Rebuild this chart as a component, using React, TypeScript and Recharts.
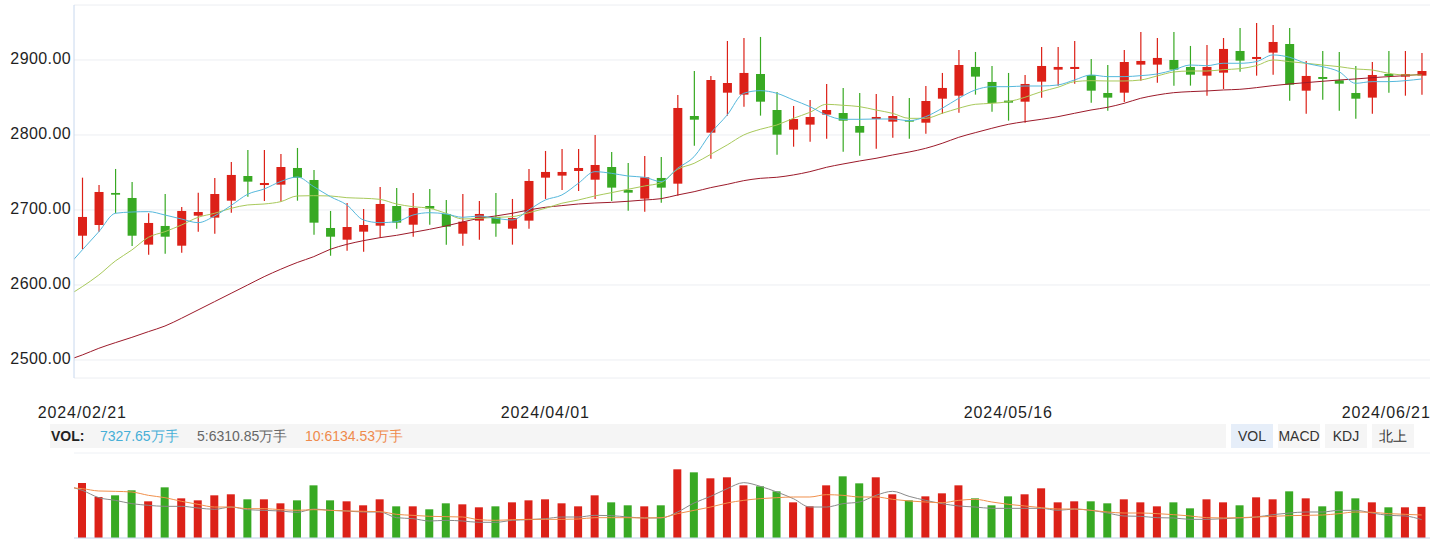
import React from "react";
import { ComposedChart, Bar, Line, XAxis, YAxis, CartesianGrid } from "recharts";

// trading days shown on the chart
const dates = [
  "2024/02/21", "2024/02/22", "2024/02/23", "2024/02/26", "2024/02/27", "2024/02/28", "2024/02/29",
  "2024/03/01", "2024/03/04", "2024/03/05", "2024/03/06", "2024/03/07", "2024/03/08",
  "2024/03/11", "2024/03/12", "2024/03/13", "2024/03/14", "2024/03/15",
  "2024/03/18", "2024/03/19", "2024/03/20", "2024/03/21", "2024/03/22",
  "2024/03/25", "2024/03/26", "2024/03/27", "2024/03/28", "2024/03/29",
  "2024/04/01", "2024/04/02", "2024/04/03", "2024/04/08", "2024/04/09", "2024/04/10", "2024/04/11", "2024/04/12",
  "2024/04/15", "2024/04/16", "2024/04/17", "2024/04/18", "2024/04/19",
  "2024/04/22", "2024/04/23", "2024/04/24", "2024/04/25", "2024/04/26", "2024/04/29", "2024/04/30",
  "2024/05/06", "2024/05/07", "2024/05/08", "2024/05/09", "2024/05/10",
  "2024/05/13", "2024/05/14", "2024/05/15", "2024/05/16", "2024/05/17",
  "2024/05/20", "2024/05/21", "2024/05/22", "2024/05/23", "2024/05/24",
  "2024/05/27", "2024/05/28", "2024/05/29", "2024/05/30", "2024/05/31",
  "2024/06/03", "2024/06/04", "2024/06/05", "2024/06/06", "2024/06/07",
  "2024/06/11", "2024/06/12", "2024/06/13", "2024/06/14",
  "2024/06/17", "2024/06/18", "2024/06/19", "2024/06/20", "2024/06/21",
];
const dateTicks = [0, 28, 56, 81];

const open = [
  2665.7, 2680.0, 2722.7, 2716.0, 2653.8, 2678.7, 2652.4, 2692.4, 2689.8, 2712.4,
  2745.3, 2733.3, 2733.8, 2756.0, 2740.0, 2676.0, 2660.4, 2671.1, 2679.1, 2705.3,
  2680.4, 2705.3, 2694.7, 2668.4, 2685.8, 2690.7, 2675.1, 2685.8, 2743.1, 2745.8,
  2752.0, 2740.4, 2757.3, 2726.7, 2715.1, 2742.7, 2735.1, 2825.3, 2803.1, 2856.4,
  2853.8, 2881.3, 2833.3, 2807.1, 2813.8, 2827.1, 2829.3, 2812.0, 2821.3, 2817.8,
  2820.0, 2816.4, 2848.4, 2852.4, 2890.7, 2870.7, 2845.8, 2844.4, 2871.1, 2887.1,
  2888.0, 2880.0, 2856.0, 2856.4, 2893.8, 2893.8, 2900.0, 2890.7, 2879.1, 2883.1,
  2912.0, 2901.3, 2909.8, 2921.3, 2859.1, 2877.3, 2872.9, 2856.0, 2849.8, 2881.3,
  2877.8, 2879.1,
];
const high = [
  2743.1, 2733.3, 2754.7, 2737.3, 2695.6, 2721.3, 2704.0, 2723.1, 2742.7, 2764.0,
  2780.0, 2780.0, 2774.7, 2782.7, 2753.3, 2698.7, 2709.3, 2701.3, 2730.7, 2729.3,
  2722.7, 2728.0, 2713.3, 2721.3, 2712.0, 2722.7, 2714.7, 2754.7, 2778.7, 2781.3,
  2781.3, 2800.0, 2777.3, 2762.7, 2772.0, 2770.7, 2853.3, 2885.3, 2878.7, 2925.3,
  2929.3, 2930.7, 2857.3, 2838.7, 2846.7, 2868.0, 2862.7, 2856.0, 2854.7, 2852.0,
  2849.3, 2865.3, 2882.7, 2913.3, 2910.7, 2892.0, 2882.7, 2880.0, 2917.3, 2917.3,
  2925.3, 2901.3, 2893.3, 2913.3, 2937.3, 2929.3, 2937.3, 2918.7, 2920.0, 2929.3,
  2942.7, 2949.3, 2946.7, 2942.7, 2898.7, 2912.0, 2910.7, 2892.0, 2897.3, 2912.0,
  2912.0, 2909.3,
];
const low = [
  2648.0, 2671.0, 2695.6, 2652.0, 2640.4, 2641.7, 2643.0, 2671.0, 2668.4, 2696.4,
  2717.8, 2712.0, 2711.0, 2712.4, 2667.0, 2639.0, 2645.7, 2644.4, 2663.1, 2675.1,
  2664.4, 2680.4, 2653.8, 2652.4, 2660.4, 2664.4, 2653.8, 2675.1, 2714.7, 2726.7,
  2725.3, 2714.7, 2712.0, 2699.1, 2697.8, 2709.8, 2719.1, 2785.8, 2768.4, 2825.8,
  2837.8, 2825.8, 2773.8, 2784.4, 2791.1, 2795.1, 2777.8, 2772.4, 2781.8, 2796.4,
  2795.1, 2801.8, 2828.4, 2829.8, 2853.8, 2831.1, 2819.1, 2816.4, 2849.8, 2865.8,
  2868.4, 2843.1, 2832.4, 2844.0, 2872.4, 2869.8, 2865.8, 2865.8, 2852.4, 2861.3,
  2884.4, 2879.1, 2880.4, 2845.8, 2828.4, 2847.1, 2832.4, 2821.8, 2828.4, 2856.4,
  2852.4, 2853.8,
];
const close = [
  2690.7, 2724.0, 2720.4, 2665.7, 2682.7, 2664.4, 2698.7, 2697.3, 2721.3, 2746.7,
  2737.8, 2736.0, 2757.3, 2743.1, 2683.1, 2664.4, 2677.3, 2680.0, 2708.0, 2683.1,
  2702.7, 2701.8, 2677.8, 2684.4, 2694.7, 2681.8, 2689.3, 2738.7, 2750.7, 2750.7,
  2756.0, 2760.0, 2729.8, 2723.1, 2743.6, 2729.8, 2836.0, 2820.4, 2873.3, 2869.3,
  2882.7, 2844.4, 2800.4, 2821.3, 2824.0, 2833.3, 2819.1, 2803.1, 2824.0, 2825.3,
  2817.8, 2845.3, 2862.7, 2893.3, 2877.8, 2842.7, 2843.1, 2868.0, 2892.0, 2890.7,
  2890.7, 2859.1, 2849.8, 2897.3, 2898.7, 2902.7, 2887.1, 2880.4, 2890.7, 2914.7,
  2899.1, 2904.0, 2924.0, 2867.1, 2878.7, 2874.7, 2868.4, 2848.4, 2880.0, 2878.7,
  2881.3, 2885.3,
];

// price moving averages as drawn
const ma5 = [
  2646.7, 2671.0, 2695.6, 2697.3, 2697.8, 2693.3, 2688.0, 2683.1, 2692.0, 2706.0,
  2721.0, 2728.0, 2738.0, 2744.0, 2731.1, 2717.8, 2706.7, 2686.7, 2683.1, 2684.4,
  2693.3, 2696.4, 2694.7, 2690.2, 2692.0, 2688.9, 2686.7, 2700.0, 2713.3, 2720.0,
  2735.6, 2751.1, 2748.9, 2745.3, 2743.6, 2737.8, 2755.6, 2771.1, 2802.2, 2826.7,
  2855.6, 2859.1, 2855.6, 2846.7, 2837.8, 2826.7, 2820.9, 2820.9, 2821.3, 2821.3,
  2819.1, 2824.4, 2835.6, 2848.9, 2860.0, 2864.4, 2864.4, 2865.3, 2865.3, 2866.7,
  2873.3, 2880.0, 2877.8, 2877.8, 2879.1, 2881.3, 2886.7, 2893.3, 2892.4, 2895.6,
  2895.6, 2897.8, 2906.7, 2903.6, 2895.6, 2891.1, 2884.4, 2868.9, 2871.1, 2871.1,
  2872.4, 2874.7,
];
const ma10 = [
  2597.8, 2613.3, 2632.0, 2646.7, 2663.6, 2671.1, 2680.0, 2690.2, 2695.6, 2702.2,
  2706.7, 2708.0, 2711.1, 2718.7, 2719.1, 2718.7, 2716.4, 2715.6, 2714.2, 2708.0,
  2704.4, 2702.2, 2695.6, 2688.0, 2688.9, 2690.2, 2691.1, 2696.4, 2702.2, 2709.0,
  2713.3, 2718.7, 2723.1, 2727.6, 2732.0, 2736.4, 2754.2, 2762.2, 2774.2, 2786.7,
  2800.0, 2807.6, 2813.3, 2822.2, 2830.2, 2840.9, 2839.6, 2837.8, 2833.3, 2828.9,
  2822.2, 2822.2, 2828.9, 2835.6, 2840.9, 2842.2, 2844.4, 2850.2, 2857.8, 2863.6,
  2871.1, 2872.4, 2872.0, 2872.0, 2873.3, 2878.7, 2884.0, 2885.3, 2885.3, 2887.1,
  2888.4, 2892.4, 2900.0, 2897.8, 2895.6, 2893.3, 2891.1, 2888.0, 2886.7, 2882.2,
  2880.0, 2880.0,
];
const maSlow = [
  2506.7, 2515.6, 2523.1, 2530.2, 2537.8, 2545.3, 2555.6, 2566.7, 2577.8, 2588.9,
  2600.0, 2611.1, 2621.0, 2630.0, 2637.8, 2647.6, 2654.2, 2659.1, 2663.1, 2666.2,
  2670.2, 2674.2, 2678.7, 2684.0, 2688.9, 2692.0, 2695.6, 2700.0, 2703.6, 2705.8,
  2708.0, 2709.3, 2710.2, 2711.6, 2713.3, 2715.1, 2720.0, 2724.4, 2729.8, 2734.2,
  2739.1, 2742.2, 2743.6, 2746.7, 2751.1, 2756.9, 2761.3, 2765.3, 2768.9, 2773.3,
  2777.3, 2782.2, 2788.9, 2796.9, 2803.1, 2808.9, 2814.2, 2817.8, 2820.9, 2824.4,
  2828.9, 2833.3, 2836.9, 2842.2, 2848.9, 2853.3, 2856.4, 2857.8, 2858.7, 2860.0,
  2860.9, 2863.1, 2865.8, 2868.0, 2869.8, 2871.6, 2873.3, 2874.7, 2876.4, 2877.8,
  2879.1, 2880.9,
];

// volume (万手) and its averages as drawn
const volume = [
  12940, 9650, 10040, 11220, 8630, 11920, 9330, 8860, 10040, 10280,
  9100, 9100, 8160, 8860, 12390, 8860, 8630, 7690, 9100, 7450,
  7450, 6750, 8160, 7920, 7220, 7450, 8390, 8860, 9100, 8160,
  7450, 10040, 8390, 7690, 7450, 7690, 16160, 15450, 14040, 14280,
  12390, 12160, 10980, 8390, 7450, 12390, 14510, 12860, 14280, 10280,
  8860, 9800, 10510, 12390, 9330, 7690, 9800, 10280, 11690, 8390,
  8630, 8630, 8160, 9100, 8390, 7450, 8390, 6980, 9100, 8390,
  7690, 9570, 9100, 10980, 9330, 7450, 10980, 9330, 8390, 7220,
  7220, 7327.65,
];
const volMa5 = [
  11220, 9490, 8860, 8080, 7690, 7450, 7450, 7060, 6750, 7290,
  6670, 6510, 6350, 6040, 6820, 6510, 6350, 6120, 6120, 4780,
  4550, 4000, 4160, 4000, 3690, 3690, 4160, 4310, 4550, 4940,
  4940, 5330, 5260, 4940, 4710, 4710, 6120, 8240, 9800, 11610,
  13020, 12160, 10820, 9260, 7290, 7290, 8080, 8470, 10040, 10980,
  9800, 8860, 8080, 7530, 7290, 6980, 6980, 6980, 6980, 6510,
  6820, 6510, 5880, 5180, 5100, 4780, 4710, 4390, 4390, 4550,
  4710, 4940, 5490, 5880, 6120, 6120, 6510, 6510, 5880, 5330,
  5180, 4310,
];
const volMa10 = [
  11610, 11060, 10980, 10820, 10040, 9490, 8630, 7920, 7290, 7290,
  6900, 6900, 6670, 6510, 6670, 6510, 6350, 6280, 6200, 5570,
  5330, 5100, 5020, 4940, 4310, 4160, 4310, 4390, 4390, 4390,
  4470, 4780, 4780, 4780, 4710, 4780, 5730, 6510, 7290, 8240,
  8860, 9260, 9490, 9650, 9650, 10200, 10040, 9650, 9650, 9100,
  8710, 8470, 8310, 8860, 9100, 8470, 7920, 7530, 7140, 6820,
  6820, 6510, 6120, 5880, 5880, 5730, 5490, 5180, 4780, 4710,
  4780, 4940, 5100, 5260, 5330, 5410, 5730, 6120, 6040, 5730,
  5570, 5410,
];

// averages on the day before the first candle (lines run in from the left edge)
const prevMa5 = 2622;
const prevMa10 = 2584;
const prevMaSlow = 2499;
const prevVolMa5 = 12300;
const prevVolMa10 = 11900;

const UP = "#dc2118";
const DOWN = "#38a923";
const FONT = '"Liberation Sans", Arial, sans-serif';

const rows = [
  { i: -1, ma5: prevMa5, ma10: prevMa10, maSlow: prevMaSlow, volMa5: prevVolMa5, volMa10: prevVolMa10 },
  ...dates.map((d, i) => ({
    i,
    date: d,
    open: open[i],
    high: high[i],
    low: low[i],
    close: close[i],
    up: close[i] >= open[i],
    ma5: ma5[i],
    ma10: ma10[i],
    maSlow: maSlow[i],
    vol: volume[i],
    volMa5: volMa5[i],
    volMa10: volMa10[i],
  })),
];

const Candle = (props: any) => {
  const { x, y, width, height, payload } = props;
  if (!payload || payload.open == null || height == null) return null;
  const top0 = Math.min(y, y + height);
  const h = Math.abs(height);
  const k = h / (payload.high - payload.low);
  const yOf = (v: number) => top0 + (payload.high - v) * k;
  const color = payload.up ? UP : DOWN;
  const cx = x + width / 2;
  const bTop = yOf(Math.max(payload.open, payload.close));
  const bBot = yOf(Math.min(payload.open, payload.close));
  return (
    <g>
      <line x1={cx} x2={cx} y1={top0} y2={top0 + h} stroke={color} strokeWidth={1.2} />
      <rect x={x} y={bTop} width={width} height={Math.max(bBot - bTop, 1.5)} fill={color} />
    </g>
  );
};

const VolBar = (props: any) => {
  const { x, y, width, height, payload } = props;
  if (!payload || payload.vol == null) return null;
  return <rect x={x} y={Math.min(y, y + height)} width={width} height={Math.abs(height)} fill={payload.up ? UP : DOWN} />;
};

const PriceTick = (props: any) => {
  const { x, y, payload } = props;
  return (
    <text x={x} y={y + 4.5} textAnchor="end" fontSize={16} fill="#1f1f1f" fontFamily={FONT} letterSpacing={0.4}>
      {Number(payload.value).toFixed(2)}
    </text>
  );
};

const DateTick = (props: any) => {
  const { x, y, payload } = props;
  const last = payload.value === dates.length - 1;
  return (
    <text
      x={last ? x + 9 : x}
      y={y + 40}
      textAnchor={last ? "end" : "middle"}
      fontSize={16}
      fill="#1f1f1f"
      fontFamily={FONT}
      letterSpacing={0.9}
    >
      {dates[payload.value]}
    </text>
  );
};

const legendItems = [
  { text: "7327.65万手", color: "#46afd7", left: 100 },
  { text: "5:6310.85万手", color: "#666666", left: 197 },
  { text: "10:6134.53万手", color: "#ef8a4c", left: 305 },
];
const tabs = [
  { text: "VOL", left: 1231, active: true },
  { text: "MACD", left: 1278, active: false },
  { text: "KDJ", left: 1325, active: false },
  { text: "北上", left: 1372, active: false },
];

export default function App() {
  return (
    <div style={{ position: "absolute", left: 0, top: 0, width: 1447, height: 540, background: "#fff", fontFamily: FONT }}>
      <div style={{ position: "absolute", left: 0, top: 0 }}>
        <ComposedChart width={1447} height={430} data={rows} margin={{ top: 5, right: 17, bottom: 0, left: 0 }}>
          <CartesianGrid vertical={false} stroke="#eceef2" />
          <XAxis
            dataKey="i"
            type="number"
            domain={[-0.5, 81.5]}
            allowDataOverflow
            ticks={dateTicks}
            interval={0}
            axisLine={false}
            tickLine={false}
            tickSize={0}
            tickMargin={0}
            height={52}
            tick={<DateTick />}
          />
          <YAxis
            type="number"
            domain={[2476, 2973.3]}
            allowDataOverflow
            ticks={[2500, 2600, 2700, 2800, 2900]}
            interval={0}
            width={74}
            axisLine={{ stroke: "#c8d8ee" }}
            tickLine={false}
            tickSize={0}
            tickMargin={3}
            tick={<PriceTick />}
          />
          <Bar
            dataKey={(d: any) => (d.open == null ? null : [d.low, d.high])}
            barSize={9}
            shape={<Candle />}
            isAnimationActive={false}
          />
          <Line type="monotone" dataKey="maSlow" stroke="#9c1a2a" strokeWidth={1} dot={false} isAnimationActive={false} />
          <Line type="monotone" dataKey="ma10" stroke="#a8c95b" strokeWidth={1} dot={false} isAnimationActive={false} />
          <Line type="monotone" dataKey="ma5" stroke="#55b8dc" strokeWidth={1} dot={false} isAnimationActive={false} />
        </ComposedChart>
      </div>

      <div style={{ position: "absolute", left: 50, top: 424, width: 1176, height: 24, background: "#f5f5f5" }} />
      <div style={{ position: "absolute", left: 51, top: 424, height: 24, lineHeight: "24px", fontSize: 14, fontWeight: 700, color: "#222" }}>
        VOL:
      </div>
      {legendItems.map((it) => (
        <div
          key={it.text}
          style={{ position: "absolute", left: it.left, top: 424, height: 24, lineHeight: "24px", fontSize: 14, color: it.color, whiteSpace: "nowrap" }}
        >
          {it.text}
        </div>
      ))}
      {tabs.map((t) => (
        <div
          key={t.text}
          style={{
            position: "absolute",
            left: t.left,
            top: 424,
            width: 42,
            height: 24,
            lineHeight: "24px",
            textAlign: "center",
            fontSize: 14,
            color: "#333",
            background: t.active ? "#e6eef9" : "#f5f5f5",
          }}
        >
          {t.text}
        </div>
      ))}

      <div style={{ position: "absolute", left: 0, top: 448 }}>
        <ComposedChart width={1447} height={92} data={rows} margin={{ top: 5, right: 17, bottom: 0, left: 74 }}>
          <CartesianGrid vertical={false} stroke="#eef1f5" />
          <XAxis
            dataKey="i"
            type="number"
            domain={[-0.5, 81.5]}
            allowDataOverflow
            ticks={[]}
            tick={false}
            tickLine={false}
            axisLine={{ stroke: "#c8d8ee" }}
            height={2}
          />
          <YAxis
            type="number"
            domain={[0, 20000]}
            ticks={[0, 5000, 10000, 15000, 20000]}
            width={0}
            tick={false}
            tickLine={false}
            axisLine={false}
          />
          <Bar dataKey="vol" barSize={8} shape={<VolBar />} isAnimationActive={false} />
          <Line type="monotone" dataKey="volMa5" stroke="#8a8a8a" strokeWidth={1} dot={false} isAnimationActive={false} />
          <Line type="monotone" dataKey="volMa10" stroke="#f0904c" strokeWidth={1} dot={false} isAnimationActive={false} />
        </ComposedChart>
      </div>
    </div>
  );
}
